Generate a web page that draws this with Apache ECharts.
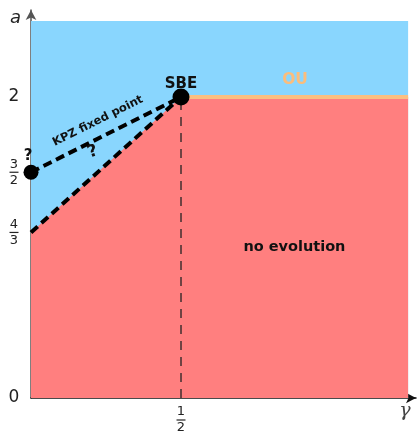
<!DOCTYPE html>
<html>
<head>
<meta charset="utf-8">
<script src="https://cdn.jsdelivr.net/npm/echarts@6/dist/echarts.min.js"></script>
<style>html,body{margin:0;padding:0;background:#fff;}#c{width:420px;height:436px;}</style>
</head>
<body>
<div id="c"></div>
<script>
// Schematic phase diagram: gamma (x) vs a (y). The a-axis is schematic,
// so each labelled value has a display position on the axis.
const yTickPos = [0, 1.1, 1.5, 2];
const yTickLabels = ['0', '4/3', '3/2', '2'];
const xTickPos = [0.5];
const xTickLabels = ['1/2'];

const gammaEdge = 1.257;   // right edge of the shaded domain
const aTop = 2.505;        // top edge of the shaded domain

// lower boundary (red region "no evolution")
const boundaryGamma = [0, 0.5, gammaEdge];
const boundaryA = [1.1, 2, 2];
// KPZ fixed point line
const kpzGamma = [0, 0.5];
const kpzA = [1.5, 2];
// OU line
const ouGamma = [0.5, gammaEdge];
const ouA = [2, 2];
// special points
const pointGamma = [0, 0.5];
const pointA = [1.5, 2];

const F = '"DejaVu Sans", sans-serif';
const zip = (xs, ys) => xs.map((x, i) => [x, ys[i]]);

function fracLabel(s) {
  if (s.indexOf('/') < 0) return '{w|' + s + '}';
  const p = s.split('/');
  return '{n|' + p[0] + '}\n{b| }\n{n|' + p[1] + '}';
}
const rich = {
  w: { fontSize: 17, fontFamily: F, color: '#222', lineHeight: 20 },
  n: { fontSize: 13, fontFamily: F, color: '#222', lineHeight: 12, align: 'center' },
  b: { width: 9, height: 1.2, backgroundColor: '#222', lineHeight: 4, fontSize: 2, align: 'center' }
};

const chart = echarts.init(document.getElementById('c'), null, { renderer: 'canvas' });
chart.setOption({
  animation: false,
  grid: { left: 31, right: 4, top: 10, bottom: 38 },
  xAxis: {
    type: 'value', min: 0, max: 1.2833,
    splitLine: { show: false },
    axisTick: { show: false },
    axisLine: { show: true, onZero: false, lineStyle: { color: '#111', width: 1.5 }, symbol: ['none', 'arrow'], symbolSize: [8, 10] },
    axisLabel: {
      customValues: xTickPos, margin: 8, verticalAlign: 'top',
      formatter: v => fracLabel(xTickLabels[xTickPos.indexOf(v)] || ''),
      rich: rich
    },
    name: 'γ', nameLocation: 'end', nameGap: -11,
    nameTextStyle: { fontFamily: '"DejaVu Serif", serif', fontStyle: 'italic', fontSize: 19, color: '#444', align: 'center', verticalAlign: 'top', padding: [4, 0, 0, 0] }
  },
  yAxis: {
    type: 'value', min: 0, max: 2.578,
    splitLine: { show: false },
    axisTick: { show: false },
    axisLine: { show: true, onZero: false, lineStyle: { color: '#555', width: 1.5 }, symbol: ['none', 'arrow'], symbolSize: [8, 10] },
    axisLabel: {
      customValues: yTickPos, margin: 17, align: 'center', verticalAlign: 'middle',
      formatter: v => fracLabel(yTickLabels[yTickPos.indexOf(v)] || ''),
      rich: rich
    },
    name: 'a', nameLocation: 'end', nameGap: -8,
    nameTextStyle: { fontFamily: F, fontStyle: 'italic', fontSize: 18, color: '#222', align: 'right', verticalAlign: 'middle', padding: [0, 10, 0, 0] }
  },
  series: [
    { type: 'line', data: zip([0, gammaEdge], [aTop, aTop]), symbol: 'none', z: 1,
      lineStyle: { width: 0 }, areaStyle: { color: '#89d6fe', opacity: 1, origin: 'start' } },
    { type: 'line', data: zip(boundaryGamma, boundaryA), symbol: 'none', z: 2,
      lineStyle: { width: 0 }, areaStyle: { color: '#ff7f7f', opacity: 1, origin: 'start' } },
    { type: 'line', data: zip(ouGamma, ouA), symbol: 'none', z: 3,
      lineStyle: { width: 4, color: '#fbbf80', opacity: 1 } },
    { type: 'line', data: [[0.5, 0], [0.5, 2]], symbol: 'none', z: 3,
      lineStyle: { width: 1.3, color: '#222', opacity: 1, type: [9, 7] } },
    { type: 'line', data: zip(boundaryGamma.slice(0, 2), boundaryA.slice(0, 2)), symbol: 'none', z: 4,
      lineStyle: { width: 4, color: '#000', opacity: 1, type: [9, 5] } },
    { type: 'line', data: zip(kpzGamma, kpzA), symbol: 'none', z: 4,
      lineStyle: { width: 4, color: '#000', opacity: 1, type: [9, 5] } },
    { type: 'scatter', clip: false, z: 6, symbol: 'circle',
      itemStyle: { color: '#000', opacity: 1 },
      data: [
        { value: [pointGamma[0], pointA[0]], symbolSize: 15,
          label: { show: true, formatter: '?', position: 'top', distance: 1, fontFamily: F, fontWeight: 'bold', fontSize: 15, color: '#111', offset: [-3, 0] } },
        { value: [pointGamma[1], pointA[1]], symbolSize: 17,
          label: { show: true, formatter: 'SBE', position: 'top', distance: -3, fontFamily: F, fontWeight: 'bold', fontSize: 15, color: '#111' } }
      ] },
    { type: 'scatter', clip: false, z: 7, symbolSize: 0, silent: true,
      itemStyle: { opacity: 1 },
      data: [
        { value: [0.223, 1.84], label: { show: true, position: 'inside', formatter: 'KPZ fixed point', rotate: 26.6, fontFamily: F, fontWeight: 'bold', fontSize: 11.5, color: '#111' } },
        { value: [0.206, 1.635], label: { show: true, position: 'inside', formatter: '?', rotate: 20, fontFamily: F, fontWeight: 'bold', fontSize: 17, color: '#111' } },
        { value: [0.878, 1.0], label: { show: true, position: 'inside', formatter: 'no evolution', fontFamily: F, fontWeight: 'bold', fontSize: 14.5, color: '#111' } },
        { value: [0.88, 2.11], label: { show: true, position: 'inside', formatter: 'OU', fontFamily: F, fontWeight: 'bold', fontSize: 15.5, color: '#fbbd7c' } }
      ] }
  ]
});
</script>
</body>
</html>
